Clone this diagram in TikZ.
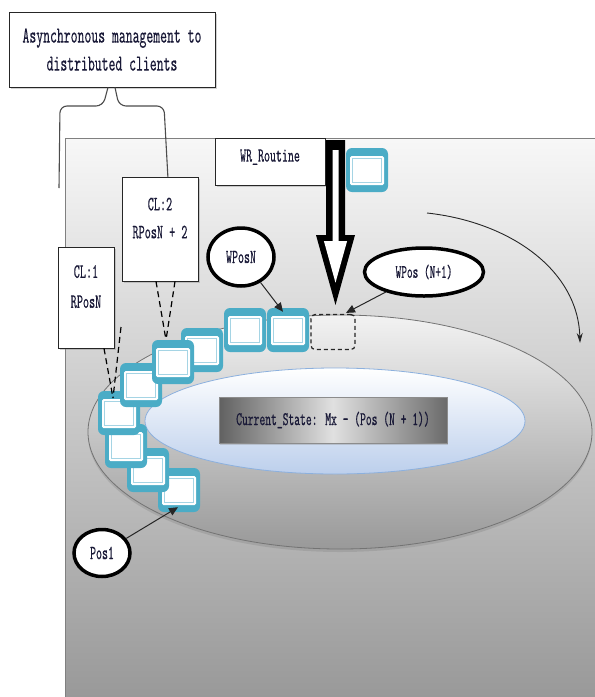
\documentclass[tikz,border=0pt]{standalone}
\usepackage{fontspec}
\newfontfamily\cour{lmmono10-regular.otf}[FakeStretch=0.57,FakeBold=0.3]
\usetikzlibrary{arrows.meta,shapes.geometric,shadows,calc}
\definecolor{boxblue}{RGB}{75,172,198}
\definecolor{innerblue}{RGB}{165,212,228}
\definecolor{ellblue}{RGB}{188,207,236}
\definecolor{ellbluedraw}{RGB}{140,176,222}
\definecolor{txt}{RGB}{25,25,55}
\begin{document}
\begin{tikzpicture}[x=1pt,y=-1pt,
  blk/.style={rectangle, rounded corners=6pt, fill=boxblue, minimum width=42pt, minimum height=44pt, inner sep=0pt,
    path picture={
      \fill[white, rounded corners=1.5pt] ($(path picture bounding box.north west)+(4pt,-8pt)$) rectangle ($(path picture bounding box.south east)+(-4pt,7pt)$);
      \draw[innerblue, line width=1pt, fill=white, sharp corners] ($(path picture bounding box.north west)+(6.5pt,-10.5pt)$) rectangle ($(path picture bounding box.south east)+(-6.5pt,9.5pt)$);
    }},
  lbl/.style={font=\cour\fontsize{20}{24}\selectfont, text=txt},
  plainbox/.style={draw=black!85, line width=0.8pt, fill=white, drop shadow={shadow xshift=1.5pt, shadow yshift=-1.5pt, opacity=0.35}},
  oval/.style={ellipse, draw=black, line width=3.5pt, fill=white, inner sep=0pt, lbl},
  callout/.style={draw=black, line width=1.2pt, dash pattern=on 6pt off 4pt},
  pointer/.style={draw=black!85, line width=1pt, -{Triangle[length=9pt,width=8pt]}},
  bracel/.style={draw=black!70, line width=1.1pt, rounded corners=7pt}
]
\useasboundingbox (0,0) rectangle (595,697);
\fill[white] (0,0) rectangle (595,697);
% background panel
\shade[top color=white!97!black, bottom color=black!40] (65,138) rectangle (595,697);
\draw[black!50, line width=0.8pt] (65,697) -- (65,138) -- (595,138);

% ellipses
\node[ellipse, minimum width=504pt, minimum height=234pt, draw=black!55, line width=0.8pt,
      top color=white!95!black, bottom color=black!40,
      drop shadow={shadow xshift=0pt, shadow yshift=-3pt, opacity=0.3}] (outer) at (340,432) {};
\node[ellipse, minimum width=380pt, minimum height=106pt, draw=ellbluedraw, line width=0.8pt,
      top color=white, bottom color=ellblue] (inner) at (335,421) {};
\node[draw=black!45, line width=0.6pt, minimum width=228pt, minimum height=46pt,
      left color=black!62, right color=black!58, middle color=black!12,
      drop shadow={shadow xshift=1pt, shadow yshift=-2pt, opacity=0.3},
      font=\cour\fontsize{19.4}{24}\selectfont, text=txt] (cur) at (333,420) {Current\_State: Mx - (Pos (N + 1))};

% top box and brace
\node[plainbox, minimum width=206pt, minimum height=75pt, align=center,
      font=\cour\fontsize{23}{28}\selectfont, text=txt] (topbox) at (112,49.5) {Asynchronous management to\\distributed clients};
\coordinate (bl) at (59,188);
\draw[bracel] ([xshift=-4pt]topbox.south) -- (103,106) -- (60,106) -- (bl);
\draw[bracel] ([xshift=3pt]topbox.south) -- (119,106) -- (164,106) -- ([xshift=4pt,yshift=-1pt]164,178);

% client boxes
\node[plainbox, minimum width=56pt, minimum height=101pt, align=center, lbl,
      font=\cour\fontsize{20.4}{30}\selectfont, text depth=22pt] (cl1) at (86,297.5) {CL:1\\RPosN};
\node[plainbox, minimum width=76pt, minimum height=104pt, align=center, lbl,
      font=\cour\fontsize{20.4}{28}\selectfont, text depth=22pt] (cl2) at (160,229) {CL:2\\RPosN + 2};

% WR routine box
\node[plainbox, minimum width=110pt, minimum height=47pt, lbl, text depth=12pt] (wr) at (270,161.5) {WR\_Routine};

% big hollow arrow
\fill[black] (326,140) -- (345,140) -- (345,235) -- (355,235) -- (335.5,305) -- (316,235) -- (326,235) -- cycle;
\fill[white] (332.5,150) -- (338.5,150) -- (338.5,241) -- (347.1,241) -- (335.5,282.7) -- (323.9,241) -- (332.5,241) -- cycle;

% blue boxes
\node[blk] (bt) at (367,170) {};
\node[blk] (b9) at (179,490) {};
\node[blk] (b8) at (148,470) {};
\node[blk] (b7) at (126,446) {};
\node[blk] (b6) at (119,413) {};
\node[blk] (b5) at (141,385) {};
\node[blk] (b4) at (202,350) {};
\node[blk] (b3) at (173,362) {};
\node[blk] (ba) at (245,330) {};
\node[blk] (bb) at (288,330) {};
\node[draw=black!85, line width=1.2pt, dash pattern=on 4pt off 3pt, rounded corners=4pt,
      minimum width=44pt, minimum height=35pt] (dash) at (333,332) {};

% ovals
\node[oval, minimum width=66pt, minimum height=58pt] (wposn) at (241,257) {WPosN};
\node[oval, minimum width=119pt, minimum height=48pt, font=\cour\fontsize{19}{24}\selectfont] (wposn1) at (424,272) {WPos (N+1)};
\node[oval, minimum width=56pt, minimum height=47pt] (pos1) at (102,553) {Pos1};

% pointers
\draw[pointer] (wposn) -- ([xshift=-5pt,yshift=-4pt]bb.north);
\draw[pointer] (wposn1) -- ([xshift=13pt,yshift=1pt]dash.north);
\draw[pointer] (pos1) -- ([xshift=-1pt,yshift=5pt]b9.south);

% dashed callouts
\coordinate (t2) at (166,340);
\coordinate (t1) at (113,398);
\coordinate (s1) at (121,327);
\draw[callout] ([xshift=-4pt]cl2.south) -- (t2);
\draw[callout] ([xshift=15pt]cl2.south) -- (t2);
\draw[callout] ([xshift=18pt]cl1.south) -- (t1);
\draw[callout] (s1) -- (t1);

% curved flow arrow
\coordinate (ca) at (427,213);
\coordinate (cb) at (580,343);
\draw[black!85, line width=0.9pt, -{Stealth[length=10pt,width=6pt]}] (ca) .. controls (510,222) and (578,270) .. (cb);
\end{tikzpicture}
\end{document}
